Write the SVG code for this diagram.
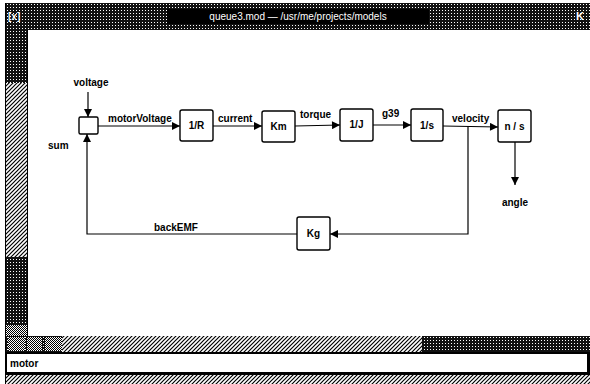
<svg xmlns="http://www.w3.org/2000/svg" width="590" height="384" viewBox="0 0 590 384">
<defs>
<pattern id="dark" width="3" height="3" patternUnits="userSpaceOnUse">
<rect width="3" height="3" fill="#111"/><rect x="1" y="1" width="1" height="1" fill="#fff"/>
</pattern>
<pattern id="mid" width="2" height="2" patternUnits="userSpaceOnUse">
<rect width="2" height="2" fill="#fff"/><rect width="1" height="1" fill="#000"/><rect x="1" y="1" width="1" height="1" fill="#000"/>
</pattern>
<pattern id="hatch" width="4" height="4" patternUnits="userSpaceOnUse">
<rect width="4" height="4" fill="#fff"/><path d="M-1,1 L1,-1 M0,4 L4,0 M3,5 L5,3" stroke="#000" stroke-width="1.2"/>
</pattern>
<marker id="ah" viewBox="0 0 10 10" refX="10" refY="5" markerWidth="9" markerHeight="8" markerUnits="userSpaceOnUse" orient="auto">
<path d="M0,0 L10,5 L0,10 z" fill="#000"/>
</marker>
<style>
.t{font-family:"Liberation Sans",Arial,sans-serif;font-weight:bold;font-size:10px;fill:#000}
.c{text-anchor:middle}
.box{fill:#fff;stroke:#000;stroke-width:1.4}
.ln{fill:none;stroke:#000;stroke-width:1.2}
</style>
</defs>
<rect width="590" height="384" fill="#fff"/>
<!-- window chrome -->
<rect x="5" y="3" width="585" height="27" fill="url(#dark)"/>
<rect x="167" y="9" width="262" height="15" fill="#000"/>
<text x="298" y="20" class="t c" style="fill:#fff;font-size:10px;font-weight:normal">queue3.mod — /usr/me/projects/models</text>
<text x="8" y="20" class="t" style="fill:#fff;font-size:10px">[x]</text>
<text x="576" y="20" class="t" style="fill:#fff;font-size:11px">K</text>
<rect x="5" y="30" width="22" height="53" fill="url(#dark)"/>
<rect x="5" y="83" width="22" height="174" fill="url(#hatch)"/>
<rect x="5" y="257" width="22" height="68" fill="url(#dark)"/>
<rect x="5" y="325" width="22" height="11" fill="url(#mid)"/>
<line x1="27.5" y1="30" x2="27.5" y2="336" stroke="#000"/>
<rect x="5" y="336" width="585" height="16" fill="url(#dark)"/>
<rect x="62" y="336" width="360" height="16" fill="url(#hatch)"/>
<rect x="8" y="337" width="17" height="14" fill="url(#mid)"/>
<rect x="27" y="337" width="15" height="14" fill="url(#mid)"/>
<rect x="45" y="337" width="17" height="14" fill="url(#mid)"/>
<rect x="5" y="352" width="585" height="23" fill="#000"/>
<rect x="7" y="354" width="580" height="18" fill="#fff"/>
<text x="10" y="367" class="t">motor</text>
<rect x="5" y="375" width="585" height="9" fill="url(#hatch)"/>
<line x1="5.5" y1="3" x2="5.5" y2="384" stroke="#000"/>
<!-- connectors -->
<g id="connectors" class="ln">
<line x1="88" y1="92" x2="88" y2="117" marker-end="url(#ah)"/>
<line x1="98" y1="126" x2="180" y2="126" marker-end="url(#ah)"/>
<line x1="213" y1="126" x2="262" y2="126" marker-end="url(#ah)"/>
<line x1="295" y1="126" x2="340" y2="125" marker-end="url(#ah)"/>
<line x1="373" y1="125" x2="411" y2="125" marker-end="url(#ah)"/>
<line x1="443" y1="126" x2="498" y2="127" marker-end="url(#ah)"/>
<polyline points="468,126 468,234 330,234" marker-end="url(#ah)"/>
<polyline points="297,234 87,234 87,134" marker-end="url(#ah)"/>
<line x1="515" y1="142" x2="515" y2="185" marker-end="url(#ah)"/>
</g>
<g class="t">
<text x="91" y="86" class="c">voltage</text>
<text x="108" y="122">motorVoltage</text>
<text x="218" y="122">current</text>
<text x="300" y="118">torque</text>
<text x="382" y="117">g39</text>
<text x="452" y="122">velocity</text>
<text x="515" y="206" class="c">angle</text>
<text x="154" y="231">backEMF</text>
</g>
<!-- nodes -->
<g id="sum"><rect class="box" x="79" y="117" width="19" height="17" rx="1.5"/><text x="48" y="149" class="t">sum</text></g>
<g id="n1R"><rect class="box" x="180" y="110" width="33" height="31" rx="2"/><text x="196.5" y="129" class="t c">1/R</text></g>
<g id="nKm"><rect class="box" x="262" y="111" width="33" height="31" rx="2"/><text x="278.5" y="130" class="t c">Km</text></g>
<g id="n1J"><rect class="box" x="340" y="109" width="33" height="32" rx="2"/><text x="356.5" y="128" class="t c">1/J</text></g>
<g id="n1s"><rect class="box" x="411" y="109" width="32" height="32" rx="2"/><text x="427" y="129" class="t c">1/s</text></g>
<g id="nns"><rect class="box" x="498" y="110" width="33" height="32" rx="2"/><text x="514.5" y="130" class="t c">n / s</text></g>
<g id="nKg"><rect class="box" x="297" y="217" width="33" height="33" rx="2"/><text x="313.5" y="237" class="t c">Kg</text></g>
</svg>
